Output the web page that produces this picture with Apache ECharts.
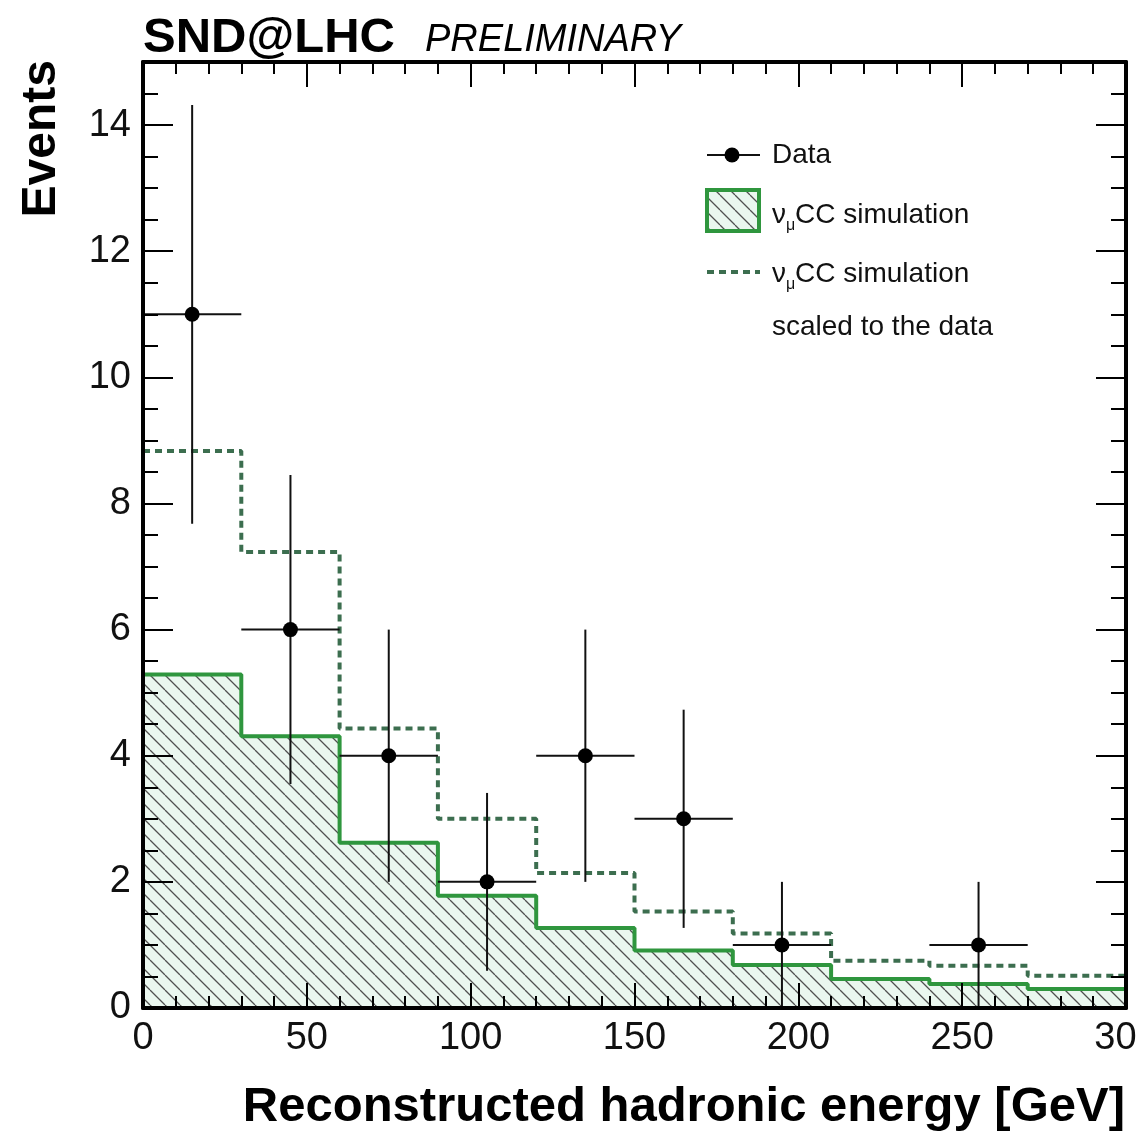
<!DOCTYPE html>
<html><head><meta charset="utf-8">
<script src="https://cdn.jsdelivr.net/npm/echarts@6/dist/echarts.min.js"></script>
<style>html,body{margin:0;padding:0;background:#fff}#c{width:1138px;height:1138px}</style>
</head><body><div id="c"></div>
<script>
// ---- data ----
const binEdges = [0, 30, 60, 90, 120, 150, 180, 210, 240, 270, 300];
const simValues = [5.29, 4.31, 2.62, 1.78, 1.27, 0.91, 0.68, 0.46, 0.38, 0.30];
const simScaledValues = [8.83, 7.23, 4.43, 3.00, 2.14, 1.53, 1.18, 0.75, 0.67, 0.51];
const dataX = [15, 45, 75, 105, 135, 165, 195, 255];
const dataY = [11, 6, 4, 2, 4, 3, 1, 1];
const dataErrLow = [3.32, 2.45, 2.00, 1.41, 2.00, 1.73, 1.00, 1.00];
const dataErrHigh = [3.32, 2.45, 2.00, 1.41, 2.00, 1.73, 1.00, 1.00];
const dataXErr = [15, 15, 15, 15, 15, 15, 15, 15];
const xTicks = [0, 50, 100, 150, 200, 250, 300];
const yTicks = [0, 2, 4, 6, 8, 10, 12, 14];
const yMax = 15;

const FONT = '"Liberation Sans", Arial, Helvetica, sans-serif';
const GREEN = '#2f963e';
const DASH = '#3c6e4f';

function hatchCanvas() {
  const s = 15;
  const c = document.createElement('canvas');
  c.width = s; c.height = s;
  const g = c.getContext('2d');
  g.fillStyle = '#eaf7ef';
  g.fillRect(0, 0, s, s);
  g.strokeStyle = '#505050';
  g.lineWidth = 1.3;
  g.beginPath();
  for (const k of [-1, 0, 1]) { g.moveTo(k * s, 0); g.lineTo(k * s + s, s); }
  g.stroke();
  return c;
}
const hatch = hatchCanvas();

const stepData = vals => binEdges.map((e, i) => [e, vals[Math.min(i, vals.length - 1)]]);
const pointData = dataX.map((x, i) => [x, dataY[i], dataErrLow[i], dataErrHigh[i], dataXErr[i]]);

function renderItem(params, api) {
  const x = api.value(0), y = api.value(1), lo = api.value(2), hi = api.value(3), xe = api.value(4);
  const c = api.coord([x, y]);
  const l = api.coord([x - xe, y]);
  const r = api.coord([x + xe, y]);
  const t = api.coord([x, y + hi]);
  const b = api.coord([x, y - lo]);
  const st = { stroke: '#111', lineWidth: 2 };
  return {
    type: 'group', children: [
      { type: 'line', shape: { x1: l[0], y1: l[1], x2: r[0], y2: r[1] }, style: st },
      { type: 'line', shape: { x1: t[0], y1: t[1], x2: b[0], y2: b[1] }, style: st },
      { type: 'circle', shape: { cx: c[0], cy: c[1], r: 7.5 }, style: { fill: '#000' } }
    ]
  };
}

const tickStyle = { color: '#000', width: 2 };
const axisLine = { show: true, onZero: false, lineStyle: { color: '#000', width: 4 } };
const xBase = {
  type: 'value', min: xTicks[0], max: xTicks[xTicks.length - 1], interval: xTicks[1] - xTicks[0], z: 10,
  axisLine: axisLine,
  axisTick: { show: true, inside: true, length: 25, lineStyle: tickStyle },
  minorTick: { show: true, splitNumber: 5, length: 12, lineStyle: tickStyle },
  splitLine: { show: false }, minorSplitLine: { show: false }
};
const yMajor = {
  type: 'value', min: yTicks[0], max: yMax, interval: yTicks[1] - yTicks[0], z: 10,
  axisLine: axisLine,
  axisTick: { show: true, inside: true, length: 30, lineStyle: tickStyle },
  splitLine: { show: false }
};
const yMinor = {
  type: 'value', min: yTicks[0], max: yMax, interval: (yTicks[1] - yTicks[0]) / 4, z: 10,
  axisLine: { show: false, onZero: false },
  axisTick: { show: true, inside: true, length: 15, lineStyle: tickStyle },
  axisLabel: { show: false }, splitLine: { show: false }
};

const chart = echarts.init(document.getElementById('c'), null, { renderer: 'canvas' });
const legendText = (x, y, txt, size) => ({
  type: 'text', x: x, y: y, z: 20,
  style: { text: txt, font: (size || 28) + 'px ' + FONT, fill: '#111', align: 'left', textAlign: 'left', verticalAlign: 'middle', textVerticalAlign: 'middle' }
});

chart.setOption({
  animation: false,
  backgroundColor: '#fff',
  grid: { left: 143, right: 12, top: 62, bottom: 130, containLabel: false, outerBoundsMode: 'none' },
  xAxis: [
    Object.assign({}, xBase, { position: 'bottom', axisLabel: { show: true, fontSize: 38, fontFamily: FONT, color: '#111', margin: 12, showMinLabel: true, showMaxLabel: true, hideOverlap: false } }),
    Object.assign({}, xBase, { position: 'top', axisLabel: { show: false } })
  ],
  yAxis: [
    Object.assign({}, yMajor, { position: 'left', axisLabel: { show: true, fontSize: 38, fontFamily: FONT, color: '#111', margin: 12, showMaxLabel: false } }),
    Object.assign({}, yMinor, { position: 'left' }),
    Object.assign({}, yMajor, { position: 'right', axisLabel: { show: false } }),
    Object.assign({}, yMinor, { position: 'right' })
  ],
  series: [
    {
      type: 'line', step: 'end', data: stepData(simValues), symbol: 'none', xAxisIndex: 0, yAxisIndex: 0,
      lineStyle: { color: GREEN, width: 4 },
      areaStyle: { color: { image: hatch, repeat: 'repeat' }, opacity: 1 }, z: 2
    },
    {
      type: 'line', step: 'end', data: stepData(simScaledValues), symbol: 'none', xAxisIndex: 0, yAxisIndex: 0,
      lineStyle: { color: DASH, width: 4, type: [7, 5] }, z: 3
    },
    {
      type: 'custom', renderItem: renderItem, data: pointData, xAxisIndex: 0, yAxisIndex: 0,
      encode: { x: 0, y: 1 }, z: 5
    }
  ],
  graphic: [
    { type: 'text', x: 143, y: 38, style: { text: 'SND@LHC', font: 'bold 49px ' + FONT, fill: '#000', align: 'left', textAlign: 'left', verticalAlign: 'middle', textVerticalAlign: 'middle' } },
    { type: 'text', x: 425, y: 40, style: { text: 'PRELIMINARY', font: 'italic 38px ' + FONT, fill: '#000', align: 'left', textAlign: 'left', verticalAlign: 'middle', textVerticalAlign: 'middle' } },
    { type: 'text', x: 42, y: 60, rotation: Math.PI / 2, style: { text: 'Events', font: 'bold 48px ' + FONT, fill: '#000', align: 'right', textAlign: 'right', verticalAlign: 'middle', textVerticalAlign: 'middle' } },
    { type: 'text', x: 1125, y: 1107, style: { text: 'Reconstructed hadronic energy [GeV]', font: 'bold 49px ' + FONT, fill: '#000', align: 'right', textAlign: 'right', verticalAlign: 'middle', textVerticalAlign: 'middle' } },
    // legend
    { type: 'line', z: 20, shape: { x1: 707, y1: 155, x2: 760, y2: 155 }, style: { stroke: '#111', lineWidth: 2 } },
    { type: 'circle', z: 20, shape: { cx: 732, cy: 155, r: 7.5 }, style: { fill: '#000' } },
    legendText(772, 155, 'Data'),
    { type: 'rect', z: 20, shape: { x: 707, y: 190, width: 52, height: 41 }, style: { fill: { image: hatch, repeat: 'repeat' }, stroke: GREEN, lineWidth: 4 } },
    legendText(772, 215, 'ν'),
    legendText(786, 226, 'μ', 16),
    legendText(795, 215, 'CC simulation'),
    { type: 'line', z: 20, shape: { x1: 707, y1: 272, x2: 760, y2: 272 }, style: { stroke: DASH, lineWidth: 4, lineDash: [7, 5] } },
    legendText(772, 274, 'ν'),
    legendText(786, 285, 'μ', 16),
    legendText(795, 274, 'CC simulation'),
    legendText(772, 327, 'scaled to the data')
  ]
});
</script>
</body></html>
